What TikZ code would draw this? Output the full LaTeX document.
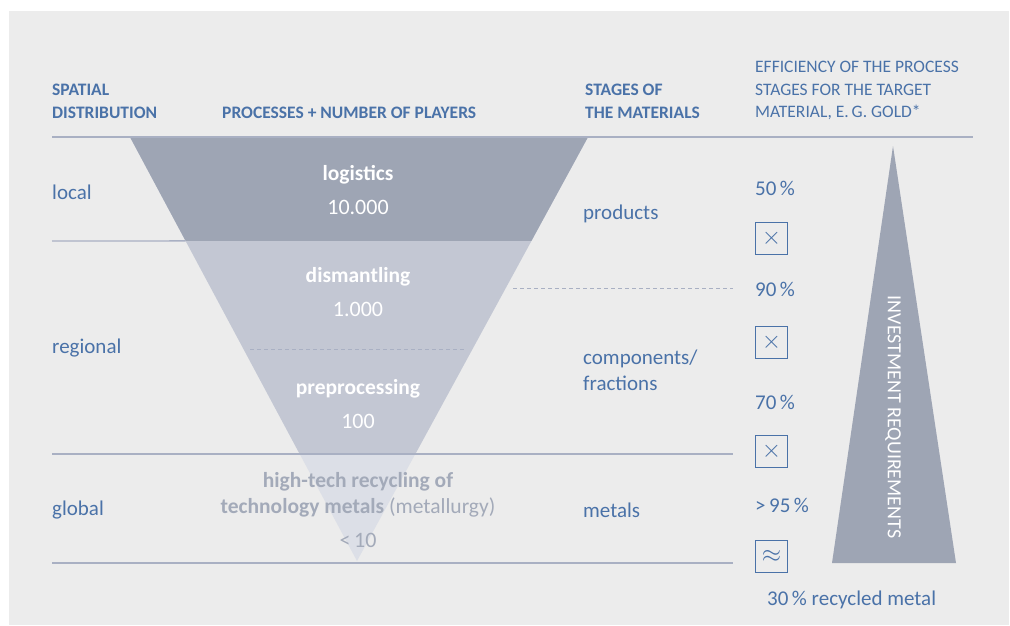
\documentclass[tikz,border=0pt]{standalone}
\usepackage{fontspec}
\setmainfont{Carlito}
\usetikzlibrary{positioning, calc}

\definecolor{bgray}{HTML}{ECECEC}
\definecolor{txtblue}{HTML}{4A72A8}
\definecolor{rulegray}{HTML}{A9B0C3}
\definecolor{funneldark}{HTML}{9EA5B4}
\definecolor{funnellight}{HTML}{C3C7D3}
\definecolor{funnelpale}{HTML}{DCDFE7}
\definecolor{recgray}{HTML}{A3AAB9}

\begin{document}
\begin{tikzpicture}[x=1pt, y=-1pt, node distance=8pt,
    head/.style={text=txtblue, font=\fontsize{17.5}{23}\selectfont\bfseries, anchor=west, align=left, inner sep=0pt},
    effhead/.style={text=txtblue, font=\fontsize{17.5}{22.5}\selectfont, anchor=west, align=left, inner sep=0pt},
    label/.style={text=txtblue, font=\fontsize{21}{26}\selectfont, anchor=west, align=left, inner sep=0pt},
    proc/.style={text=white, font=\fontsize{21.5}{26}\selectfont\bfseries, inner sep=0pt},
    count/.style={text=white, font=\fontsize{22}{26}\selectfont, inner sep=0pt},
    factor/.style={draw=txtblue, line width=1.3pt, minimum size=32pt, inner sep=0pt, text=txtblue, font=\fontsize{28}{28}\selectfont},
    rowline/.style={rulegray, line width=1.3pt},
    cut/.style={rulegray, line width=1pt, dashed, dash pattern=on 4pt off 3pt}]
    \useasboundingbox (0,0) rectangle (1010,625);
    \fill[white] (0,0) rectangle (1010,625);
    \fill[bgray] (9,11) rectangle (1009,625);

    % funnel
    \coordinate (FL) at (130,137);
    \coordinate (FR) at (588,137);
    \coordinate (FT) at (357,561);
    \fill[funnelpale] (FL) -- (FR) -- (FT) -- cycle;
    \fill[funnellight] (FL) -- (FR) -- ($(FR)!0.747!(FT)$) -- ($(FL)!0.747!(FT)$) -- cycle;
    \fill[funneldark] (FL) -- (FR) -- ($(FR)!0.245!(FT)$) -- ($(FL)!0.245!(FT)$) -- cycle;

    % rules
    \draw[rowline] (52,137) -- (973,137);
    \draw[rowline] (52,241) -- ($(FL)!0.245!(FT)$);
    \draw[rowline] (52,454) -- (733,454);
    \draw[rowline] (52,563) -- (733,563);
    \draw[cut] (250,349) -- (465,349);
    \draw[cut] (513,288) -- (733,288);

    % headings
    \node[head] (hspace) at (52,101.5) {SPATIAL\\DISTRIBUTION};
    \node[head] (hproc) at (222,113) {PROCESSES + NUMBER OF PLAYERS};
    \node[head] (hstage) at (585,101.5) {STAGES OF\\THE MATERIALS};
    \node[effhead] (heff) at (755,90.5) {EFFICIENCY OF THE PROCESS\\STAGES FOR THE TARGET\\MATERIAL, E.\,G. GOLD*};

    % spatial levels
    \node[label] (local) at (52,192) {local};
    \node[label] (regional) at (52,348) {regional};
    \node[label] (global) at (52,510) {global};

    % processes
    \node[proc] (logistics) at (358,175) {logistics};
    \node[count] (nlog) at (358,207) {10.000};
    \node[proc] (dismantling) at (358,277) {dismantling};
    \node[count] (ndis) at (358,309) {1.000};
    \node[proc] (preprocessing) at (358,389) {preprocessing};
    \node[count] (npre) at (358,421) {100};
    \node[proc, text=recgray, align=center] (hightech) at (358,495)
        {high-tech recycling of\\technology metals \mdseries(metallurgy)};
    \node[count, text=recgray] (nhigh) at (358,540) {<\,10};

    % material stages
    \node[label] (products) at (583,214) {products};
    \node[label] (components) at (583,370) {components/\\fractions};
    \node[label] (metals) at (583,510) {metals};

    % efficiency
    \node[label] (e1) at (755,188) {50\,\%};
    \node[factor, anchor=north west] (x1) at (755,222) {$\times$};
    \node[label] (e2) at (755,289) {90\,\%};
    \node[factor, anchor=north west] (x2) at (755,326) {$\times$};
    \node[label] (e3) at (755,402) {70\,\%};
    \node[factor, anchor=north west] (x3) at (755,435) {$\times$};
    \node[label] (e4) at (755,505) {>\,95\,\%};
    \node[factor, anchor=north west] (x4) at (755,540) {$\approx$};
    \node[label] (result) at (767,600) {30\,\% recycled metal};

    % investment
    \fill[funneldark] (893,146) -- (956,563) -- (832,563) -- cycle;
    \node[text=white, rotate=-90, font=\fontsize{20}{20}\selectfont, inner sep=0pt] (invest) at (893,417) {INVESTMENT REQUIREMENTS};
\end{tikzpicture}
\end{document}
